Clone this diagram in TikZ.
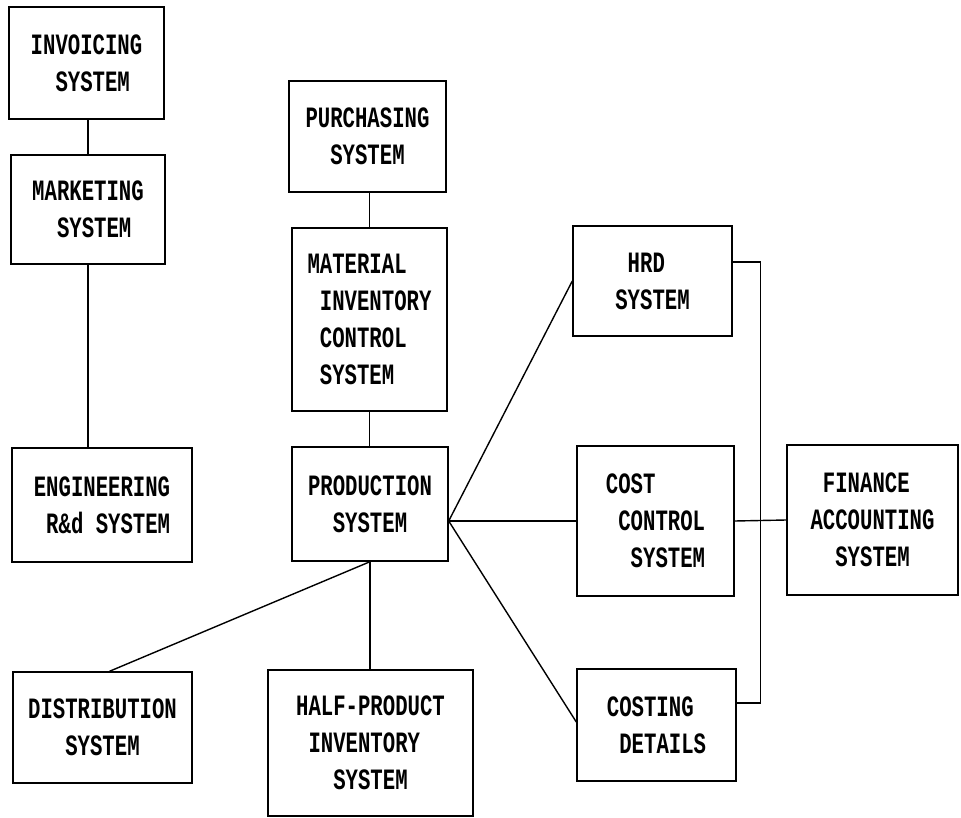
\documentclass[tikz,border=0pt]{standalone}
\usepackage{fontspec}
\newfontfamily\sysfont[FakeStretch=0.7]{Liberation Mono Bold}
\usetikzlibrary{calc}
\tikzset{
  sysbox/.style={draw, line width=1.4pt, align=left, inner sep=0pt,
    font=\sysfont\fontsize{29.5}{37}\selectfont},
  link/.style={line width=1.4pt}
}

\begin{document}
\begin{tikzpicture}[x=1pt, y=-1pt]
  \useasboundingbox (0,0) rectangle (961,818);
  % left column
  \node[sysbox, minimum width=155, minimum height=112] (inv) at (86.5,63) {INVOICING\\~~SYSTEM};
  \node[sysbox, minimum width=154, minimum height=109] (mkt) at (88,209.5) {MARKETING\\~~SYSTEM};
  \node[sysbox, minimum width=180, minimum height=114] (eng) at (102,505) {ENGINEERING\\~R\&d SYSTEM};
  \node[sysbox, minimum width=179, minimum height=111] (dist) at (102.5,727.5) {DISTRIBUTION\\~~~SYSTEM};
  % middle column
  \node[sysbox, minimum width=157, minimum height=111] (pur) at (367.5,136.5) {PURCHASING\\~~SYSTEM};
  \node[sysbox, minimum width=155, minimum height=183] (mat) at (369.5,319.5) {MATERIAL\\~INVENTORY\\~CONTROL\\~SYSTEM};
  \node[sysbox, minimum width=156, minimum height=114] (prod) at (370,504) {PRODUCTION\\~~SYSTEM};
  \node[sysbox, minimum width=205, minimum height=146] (half) at (370.5,743) {HALF-PRODUCT\\~INVENTORY\\~~~SYSTEM};
  % right column
  \node[sysbox, minimum width=159, minimum height=110] (hrd) at (652.5,281) {~HRD\\SYSTEM};
  \node[sysbox, minimum width=157, minimum height=150] (cost) at (655.5,521) {COST\\~CONTROL\\~~SYSTEM};
  \node[sysbox, minimum width=159, minimum height=112] (cdet) at (656.5,725) {COSTING\\~DETAILS};
  \node[sysbox, minimum width=171, minimum height=150] (fin) at (872.5,520) {~FINANCE\\ACCOUNTING\\~~SYSTEM};

  \coordinate (hub) at ($(prod.east)+(0,17)$);

  \draw[link] (mkt.north) -- (mkt.north |- inv.south);
  \draw[link] (mkt.south) -- (mkt.south |- eng.north);
  \draw[link] (mat.north) -- (mat.north |- pur.south);
  \draw[link] (mat.south) -- (mat.south |- prod.north);
  \draw[link] (prod.south) -- (prod.south |- half.north);
  \draw[link] (prod.south) -- ($(dist.north)+(7,0)$);
  \draw[link] (hub) -- (hrd.west);
  \draw[link] (hub) -- (cost.west);
  \draw[link] (hub) -- ($(cdet.west)+(0,-3)$);
  \draw[link] (cost.east) -- (fin.west);
  \draw[link] ($(hrd.east)+(0,-19)$) -- ++(28,0) |- ($(cdet.east)+(0,-22)$);
\end{tikzpicture}
\end{document}
